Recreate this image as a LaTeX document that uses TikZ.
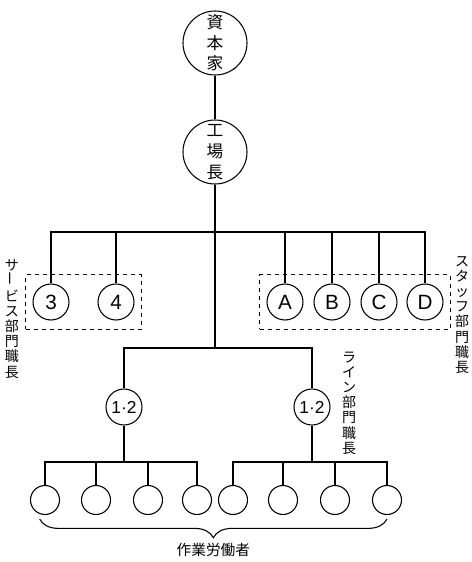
\documentclass[tikz,border=0pt]{standalone}
\usepackage{fontspec}
\setmainfont{Liberation Sans}
\newfontfamily\jp{Noto Sans CJK JP}
\usepackage{graphicx}
\usetikzlibrary{positioning,fit,decorations.pathreplacing}
\tikzset{
  head/.style={draw,circle,line width=0.8pt,minimum size=48pt,inner sep=0pt,
               align=center,font=\jp\fontsize{12.5pt}{15.5pt}\selectfont},
  chief/.style={draw,circle,line width=0.8pt,minimum size=27pt,inner sep=0pt,
                font=\fontsize{15.5pt}{17pt}\selectfont},
  linechief/.style={chief,font=\fontsize{13pt}{15pt}\selectfont},
  worker/.style={draw,circle,line width=0.8pt,minimum size=21.75pt,inner sep=0pt},
  wire/.style={line width=0.8pt},
  grp/.style={draw,dashed,line width=0.7pt,inner xsep=5pt,inner ysep=6.5pt},
  vlbl/.style={align=center,inner sep=0pt,
               font=\jp\fontsize{10.5pt}{11.4pt}\selectfont},
  brc/.style={decorate,line width=0.8pt,
              decoration={brace,mirror,amplitude=14pt}},
}
\newcommand\tatebar{\rotatebox{90}{ー}}
\begin{document}
\begin{tikzpicture}[x=0.75pt,y=-0.75pt]
  \useasboundingbox (0,0) rectangle (472,562);
  % top of the tree
  \node[head](cap) at (215,43){資\\本\\家};
  \node[head](mgr) at (215,152){工\\場\\長};
  \coordinate (hub) at (215,232);
  \coordinate (lhub) at (215,348);
  % service and staff chiefs
  \node[chief](s3) at (51,302){3};
  \node[chief](s4) at (116,302){4};
  \node[chief](sa) at (285,302){A};
  \node[chief](sb) at (332,302){B};
  \node[chief](sc) at (379,302){C};
  \node[chief](sd) at (425,302){D};
  \node[grp,fit=(s3)(s4)](svc){};
  \node[grp,fit=(sa)(sd)](stf){};
  % line chiefs
  \node[linechief](l1) at (124,407){1·2};
  \node[linechief](l2) at (312,407){1·2};
  \coordinate (b1) at (124,462);
  \coordinate (b2) at (312,462);
  % workers
  \foreach \i/\x in {1/45,2/96,3/148,4/197,5/233,6/283,7/335,8/387}
    \node[worker](w\i) at (\x,500){};
  % connectors
  \draw[wire](cap)--(mgr);
  \draw[wire](mgr)--(hub)--(lhub);
  \foreach \n in {s3,s4,sa,sb,sc,sd}
    \draw[wire](hub)-|(\n);
  \draw[wire](lhub)-|(l1);
  \draw[wire](lhub)-|(l2);
  \draw[wire](l1)--(b1);
  \draw[wire](l2)--(b2);
  \foreach \i in {1,2,3,4}
    \draw[wire](b1)-|(w\i);
  \foreach \i in {5,6,7,8}
    \draw[wire](b2)-|(w\i);
  \draw[brc]([xshift=-4pt,yshift=-3pt]w1.south)--([yshift=-3pt]w8.south)
    node[midway,below=14pt,font=\jp\fontsize{11pt}{13pt}\selectfont](wrk){作業労働者};
  % side labels
  \node[vlbl](svclbl) at (12,319){サ\\\tatebar\\ビ\\ス\\部\\門\\職\\長};
  \node[vlbl](stflbl) at (462,315){ス\\タ\\ッ\\フ\\部\\門\\職\\長};
  \node[vlbl](lnlbl) at (349,403){ラ\\イ\\ン\\部\\門\\職\\長};
\end{tikzpicture}
\end{document}
